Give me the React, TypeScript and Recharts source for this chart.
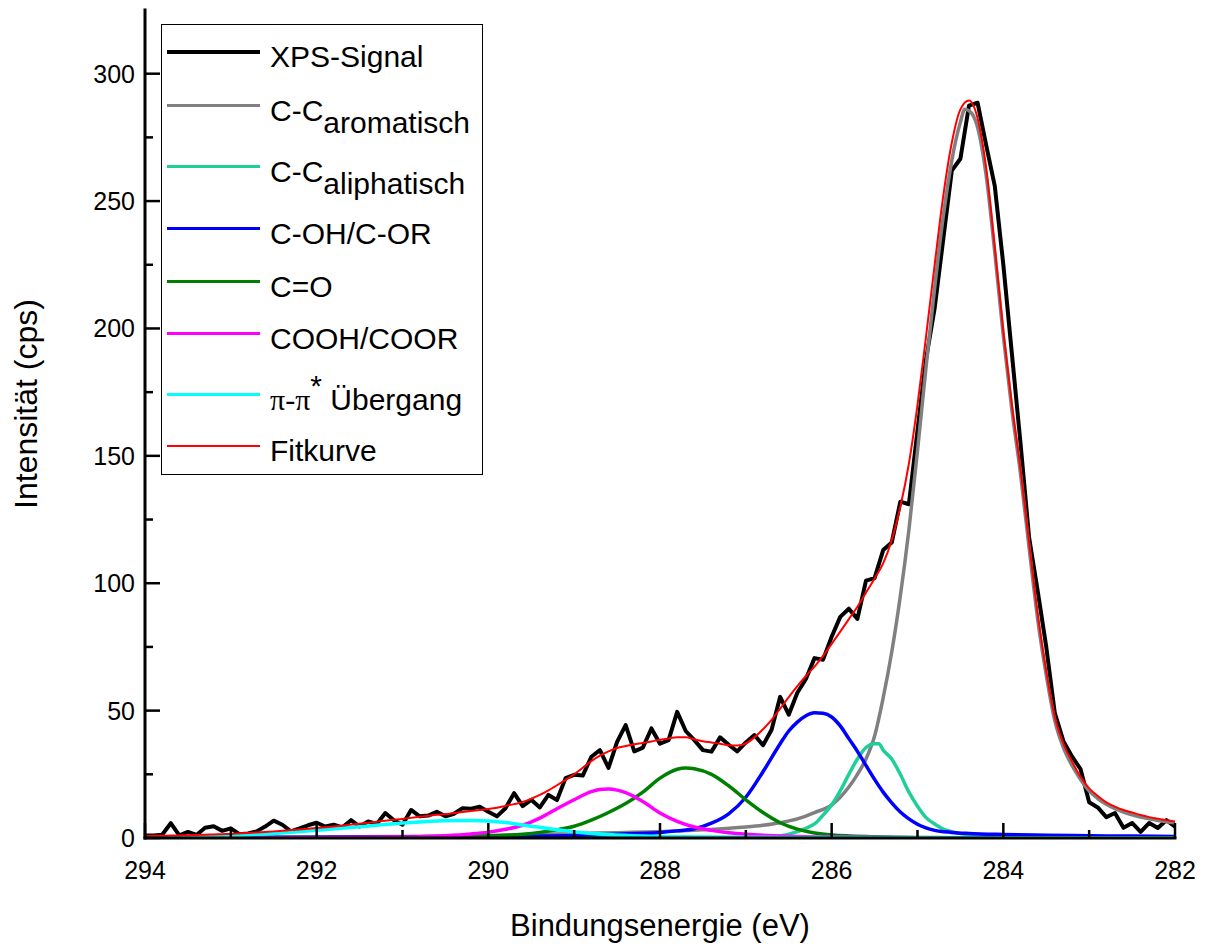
import React from 'react';
import { LineChart, Line, XAxis, YAxis, Legend } from 'recharts';

// C 1s spectrum: measured counts on a 0.1 eV grid from 294.0 eV down to 282.0 eV
const signalStart = 294.0;
const signalStep = 0.1;
const signalCounts = [
  1.0, 1.0, 1.3, 5.8, 1.0, 2.4, 1.2, 4.0, 4.6, 2.8,
  3.8, 1.5, 1.8, 2.6, 4.5, 6.8, 5.2, 2.6, 3.8, 5.0,
  6.0, 4.5, 5.2, 4.2, 7.0, 4.5, 6.5, 5.5, 9.8, 7.0,
  5.2, 11.0, 8.5, 8.8, 10.3, 8.5, 9.5, 11.7, 11.5, 12.3,
  10.3, 8.5, 11.7, 17.6, 12.5, 15.0, 12.0, 16.9, 14.9, 23.5,
  24.8, 24.5, 31.9, 34.5, 27.5, 37.7, 44.3, 34.0, 35.5, 43.0,
  37.0, 38.4, 49.5, 42.0, 38.4, 34.5, 33.9, 39.5, 36.6, 34.0,
  37.5, 40.4, 36.4, 42.5, 55.4, 48.4, 57.0, 62.4, 70.6, 70.0,
  79.0, 86.8, 90.0, 86.0, 101.0, 102.0, 113.0, 116.0, 132.0, 131.0,
  160.0, 188.0, 208.0, 235.0, 262.0, 266.6, 287.5, 288.6, 272.0, 256.0,
  225.0, 190.0, 155.0, 118.0, 97.0, 75.0, 49.0, 38.0, 32.0, 27.0,
  14.0, 12.0, 8.2, 9.8, 4.0, 5.9, 2.4, 5.9, 3.9, 7.0,
  4.5,
];

// Envelope of the fit, same grid as the measured signal
const fitCounts = [
  0.8, 0.85, 0.9, 0.95, 1.0, 1.1, 1.2, 1.3, 1.4, 1.5,
  1.6, 1.8, 2.0, 2.2, 2.4, 2.6, 2.85, 3.1, 3.35, 3.6,
  3.9, 4.2, 4.5, 4.9, 5.25, 5.6, 6.0, 6.4, 6.8, 7.15,
  7.5, 7.9, 8.3, 8.7, 9.1, 9.4, 9.8, 10.2, 10.6, 11.0,
  11.4, 11.9, 12.6, 13.3, 14.1, 15.4, 16.9, 18.7, 20.7, 22.8,
  25.0, 27.6, 30.2, 32.3, 34.0, 35.3, 36.1, 36.8, 37.3, 37.9,
  38.6, 39.1, 39.5, 39.5, 38.7, 38.0, 37.5, 37.0, 36.4, 36.3,
  37.1, 39.5, 42.7, 46.4, 50.8, 55.3, 59.6, 63.6, 67.3, 71.5,
  76.2, 81.0, 85.9, 90.8, 96.3, 101.9, 107.8, 117.0, 130.0, 147.0,
  170.0, 197.0, 225.0, 252.0, 273.0, 286.0, 289.5, 282.5, 263.0, 232.0,
  199.0, 170.0, 145.0, 116.0, 88.0, 65.5, 47.5, 37.0, 30.0, 24.0,
  19.5, 16.5, 14.0, 12.3, 11.0, 10.0, 9.0, 8.2, 7.6, 7.0,
  6.5,
];

// Fitted components (binding energy in eV, intensity in cps)
const aromaticEnergy = [294, 293, 292, 291, 290, 289, 288.5, 288, 287.5, 287, 286.8, 286.6, 286.4, 286.2, 286, 285.9, 285.8, 285.7, 285.6, 285.5, 285.4, 285.3, 285.2, 285.1, 285, 284.9, 284.8, 284.7, 284.6, 284.5, 284.45, 284.4, 284.3, 284.2, 284.1, 284, 283.9, 283.8, 283.7, 283.6, 283.5, 283.4, 283.3, 283.2, 283.1, 283, 282.9, 282.8, 282.7, 282.6, 282.5, 282.4, 282.3, 282.2, 282.1, 282];
const aromaticCounts = [0.2, 0.3, 0.4, 0.6, 1.0, 1.7, 2.1, 2.5, 3.2, 4.3, 5.0, 6.0, 7.5, 10.0, 13.0, 16.0, 20.0, 25.0, 31.0, 40.0, 55.0, 73.0, 95.0, 121.0, 152.0, 185.0, 216.0, 244.0, 266.0, 281.0, 286.0, 285.5, 279.0, 260.0, 230.0, 197.0, 168.0, 143.0, 114.0, 86.0, 64.0, 46.0, 35.5, 28.5, 23.0, 18.5, 15.5, 13.2, 11.5, 10.2, 9.1, 8.2, 7.5, 6.9, 6.4, 5.9];

const aliphaticEnergy = [294, 290, 288, 287, 286.8, 286.6, 286.4, 286.3, 286.2, 286.1, 286, 285.9, 285.8, 285.7, 285.6, 285.5, 285.45, 285.4, 285.3, 285.2, 285.1, 285, 284.9, 284.8, 284.7, 284.6, 284.4, 284.2, 284, 283.5, 283, 282];
const aliphaticCounts = [0, 0.02, 0.05, 0.2, 0.3, 0.8, 2.5, 3.8, 5.5, 9.0, 13.0, 18.5, 25.0, 31.0, 35.5, 37.0, 37.0, 34.5, 31.0, 25.0, 18.0, 12.5, 8.0, 5.5, 3.5, 2.5, 1.2, 0.8, 0.5, 0.3, 0.2, 0.1];

const cohEnergy = [294, 292, 290, 289, 288.5, 288, 287.8, 287.6, 287.4, 287.2, 287, 286.8, 286.6, 286.5, 286.4, 286.3, 286.2, 286.1, 286, 285.9, 285.8, 285.7, 285.6, 285.5, 285.4, 285.3, 285.2, 285.1, 285, 284.8, 284.6, 284.4, 284, 283.5, 283, 282.5, 282];
const cohCounts = [0.15, 0.3, 0.6, 1.0, 1.5, 2.2, 2.8, 3.6, 5.8, 9.5, 16.0, 26.0, 37.0, 42.0, 45.5, 48.0, 49.2, 49.0, 47.5, 44.0, 39.0, 34.0, 28.5, 23.0, 18.0, 13.8, 10.2, 7.5, 5.4, 3.0, 2.2, 1.8, 1.4, 1.1, 0.9, 0.75, 0.6];

const carbonylEnergy = [294, 291, 290.5, 290, 289.6, 289.4, 289.2, 289, 288.8, 288.6, 288.4, 288.2, 288, 287.8, 287.7, 287.6, 287.4, 287.2, 287, 286.8, 286.6, 286.4, 286.2, 286, 285.5, 285, 284, 282];
const carbonylCounts = [0, 0.2, 0.4, 0.8, 1.5, 2.2, 3.2, 4.6, 7.0, 10.0, 13.5, 18.0, 23.5, 27.0, 27.5, 27.2, 25.0, 20.5, 15.0, 10.0, 6.0, 3.5, 2.0, 1.2, 0.5, 0.2, 0.1, 0];

const carboxylEnergy = [294, 292, 291, 290.5, 290.2, 290, 289.8, 289.6, 289.4, 289.2, 289, 288.8, 288.7, 288.6, 288.5, 288.4, 288.2, 288, 287.8, 287.6, 287.4, 287.2, 287, 286.5, 286, 285, 282];
const carboxylCounts = [0, 0.1, 0.35, 0.9, 1.6, 2.3, 3.4, 5.0, 7.8, 11.5, 15.0, 18.2, 19.0, 19.2, 18.8, 17.8, 14.3, 9.8, 6.5, 4.3, 3.0, 2.1, 1.5, 0.7, 0.35, 0.1, 0];

const shakeUpEnergy = [294, 293.5, 293, 292.5, 292, 291.5, 291, 290.5, 290.2, 290, 289.8, 289.6, 289.4, 289.2, 289, 288.6, 288.2, 288, 287, 286, 285, 284, 282];
const shakeUpCounts = [0.1, 0.3, 0.8, 1.8, 3.0, 4.4, 5.9, 6.8, 6.9, 6.7, 6.1, 5.1, 4.2, 3.2, 2.4, 1.4, 0.8, 0.6, 0.3, 0.2, 0.1, 0.08, 0.05];

// Axis ticks
const xMajorTicks = [294, 292, 290, 288, 286, 284, 282];
const xMinorTicks = [293, 291, 289, 287, 285, 283];
const yMajorTicks = [0, 50, 100, 150, 200, 250, 300];
const yMinorTicks = [25, 75, 125, 175, 225, 275];
const xDomain: [number, number] = [282, 294];
const yDomain: [number, number] = [0, 325];

const SANS = '"Liberation Sans", Arial, Helvetica, sans-serif';
const SERIF = '"Liberation Serif", "Times New Roman", serif';

// Frame of the plotting area (chart margins + axis sizes)
const CHART_W = 1205;
const CHART_H = 947;
const MARGIN = { top: 10, right: 30, bottom: 0, left: 0 };
const Y_AXIS_W = 145;
const X_AXIS_H = 109;
const FRAME_LEFT = MARGIN.left + Y_AXIS_W;
const FRAME_RIGHT = CHART_W - MARGIN.right;
const FRAME_TOP = MARGIN.top;
const FRAME_BOTTOM = CHART_H - MARGIN.bottom - X_AXIS_H;

const toPoints = (es: number[], vs: number[]) => es.map((e, i) => ({ e, v: vs[i] }));
const signalEnergy = signalCounts.map((_, i) => Math.round((signalStart - i * signalStep) * 10) / 10);

type Series = {
  key: string;
  name: string;
  color: string;
  width: number;
  curve: 'linear' | 'monotone';
  points: { e: number; v: number }[];
  label: React.ReactNode;
};

const series: Series[] = [
  { key: 'signal', name: 'XPS-Signal', color: '#000000', width: 4, curve: 'linear', points: toPoints(signalEnergy, signalCounts), label: 'XPS-Signal' },
  {
    key: 'aromatic', name: 'C-C aromatisch', color: '#808080', width: 3.5, curve: 'monotone', points: toPoints(aromaticEnergy, aromaticCounts),
    label: (<>C-C<span style={{ position: 'relative', top: 12 }}>aromatisch</span></>),
  },
  {
    key: 'aliphatic', name: 'C-C aliphatisch', color: '#1ecf98', width: 3.5, curve: 'monotone', points: toPoints(aliphaticEnergy, aliphaticCounts),
    label: (<>C-C<span style={{ position: 'relative', top: 12 }}>aliphatisch</span></>),
  },
  { key: 'coh', name: 'C-OH/C-OR', color: '#0000ff', width: 3.5, curve: 'monotone', points: toPoints(cohEnergy, cohCounts), label: 'C-OH/C-OR' },
  { key: 'co', name: 'C=O', color: '#008000', width: 3.5, curve: 'monotone', points: toPoints(carbonylEnergy, carbonylCounts), label: 'C=O' },
  { key: 'cooh', name: 'COOH/COOR', color: '#ff00ff', width: 3.5, curve: 'monotone', points: toPoints(carboxylEnergy, carboxylCounts), label: 'COOH/COOR' },
  {
    key: 'pi', name: 'π-π* Übergang', color: '#00ffff', width: 3.5, curve: 'monotone', points: toPoints(shakeUpEnergy, shakeUpCounts),
    label: (<><span style={{ fontFamily: SERIF }}>π-π</span><span style={{ position: 'relative', top: -14 }}>*</span> Übergang</>),
  },
  { key: 'fit', name: 'Fitkurve', color: '#ff0000', width: 2, curve: 'monotone', points: toPoints(signalEnergy, fitCounts), label: 'Fitkurve' },
];

const MAJOR = 15;
const MINOR = 8;
const TICK_W = 2.5;
const axisLineStyle = { stroke: '#000', strokeWidth: 3, strokeLinecap: 'square' as const };

// Inward-pointing ticks on all four sides; only bottom/left carry numbers
const BottomTick = (props: any) => {
  const { x, payload } = props;
  const major = xMajorTicks.includes(payload.value);
  return (
    <g>
      <line x1={x} x2={x} y1={FRAME_BOTTOM} y2={FRAME_BOTTOM - (major ? MAJOR : MINOR)} stroke="#000" strokeWidth={TICK_W} />
      {major && (
        <text x={x} y={FRAME_BOTTOM + 41} textAnchor="middle" fontFamily={SANS} fontSize={25} fill="#000">{payload.value}</text>
      )}
    </g>
  );
};

const TopTick = (props: any) => {
  const { x, payload } = props;
  const major = xMajorTicks.includes(payload.value);
  return <line x1={x} x2={x} y1={FRAME_TOP} y2={FRAME_TOP + (major ? MAJOR : MINOR)} stroke="#000" strokeWidth={TICK_W} />;
};

const LeftTick = (props: any) => {
  const { y, payload } = props;
  const major = yMajorTicks.includes(payload.value);
  return (
    <g>
      <line x1={FRAME_LEFT} x2={FRAME_LEFT + (major ? MAJOR : MINOR)} y1={y} y2={y} stroke="#000" strokeWidth={TICK_W} />
      {major && (
        <text x={FRAME_LEFT - 10} y={y + 9} textAnchor="end" fontFamily={SANS} fontSize={25} fill="#000">{payload.value}</text>
      )}
    </g>
  );
};

const RightTick = (props: any) => {
  const { y, payload } = props;
  const major = yMajorTicks.includes(payload.value);
  return <line x1={FRAME_RIGHT} x2={FRAME_RIGHT - (major ? MAJOR : MINOR)} y1={y} y2={y} stroke="#000" strokeWidth={TICK_W} />;
};

const legendLineY = [26.5, 80.5, 141.5, 203.5, 256.5, 308.5, 369.5, 420.5];

const LegendBox = () => (
  <div
    style={{
      position: 'relative', width: 322, height: 451, boxSizing: 'border-box',
      border: '1.5px solid #000', background: '#fff', fontFamily: SANS, fontSize: 30, color: '#000',
    }}
  >
    {series.map((s, i) => (
      <React.Fragment key={s.key}>
        <div style={{ position: 'absolute', left: 5, top: legendLineY[i] - s.width / 2, width: 93, height: s.width, background: s.color }} />
        <div style={{ position: 'absolute', left: 108, top: legendLineY[i] - 10, lineHeight: '30px', whiteSpace: 'nowrap' }}>{s.label}</div>
      </React.Fragment>
    ))}
  </div>
);

const YTitle = () => {
  const x = 37;
  const y = 404;
  return (
    <text x={x} y={y} transform={`rotate(-90 ${x} ${y})`} textAnchor="middle" fontFamily={SANS} fontSize={32} fill="#000">
      Intensität (cps)
    </text>
  );
};

export default function App() {
  const xTicks = [...xMajorTicks, ...xMinorTicks].sort((a, b) => b - a);
  const yTicks = [...yMajorTicks, ...yMinorTicks].sort((a, b) => a - b);
  return (
    <div style={{ position: 'absolute', left: 0, top: 0, width: CHART_W, height: CHART_H, background: '#fff' }}>
      <LineChart width={CHART_W} height={CHART_H} margin={MARGIN}>
        <XAxis
          xAxisId="b" type="number" dataKey="e" domain={xDomain} reversed allowDataOverflow
          ticks={xTicks} interval={0} height={X_AXIS_H} tickSize={0} tickMargin={0} tickLine={false}
          axisLine={axisLineStyle} tick={<BottomTick />}
          label={{ value: 'Bindungsenergie (eV)', position: 'insideBottom', offset: 11, fontFamily: SANS, fontSize: 31, fill: '#000' }}
        />
        <XAxis
          xAxisId="t" orientation="top" type="number" dataKey="e" domain={xDomain} reversed allowDataOverflow
          ticks={xTicks} interval={0} height={0} tickSize={0} tickMargin={0} tickLine={false}
          axisLine={axisLineStyle} tick={<TopTick />}
        />
        <YAxis
          yAxisId="l" type="number" domain={yDomain} allowDataOverflow ticks={yTicks} interval={0}
          width={Y_AXIS_W} tickSize={0} tickMargin={0} tickLine={false} axisLine={axisLineStyle}
          tick={<LeftTick />} label={() => <YTitle />}
        />
        <YAxis
          yAxisId="r" orientation="right" type="number" domain={yDomain} allowDataOverflow ticks={yTicks} interval={0}
          width={0} tickSize={0} tickMargin={0} tickLine={false} axisLine={axisLineStyle} tick={<RightTick />}
        />
        {series.map((s) => (
          <Line
            key={s.key}
            xAxisId="b"
            yAxisId="l"
            data={s.points}
            dataKey="v"
            name={s.name}
            type={s.curve}
            stroke={s.color}
            strokeWidth={s.width}
            strokeLinejoin="round"
            dot={false}
            activeDot={false}
            isAnimationActive={false}
          />
        ))}
        <Legend
          layout="vertical"
          align="center"
          verticalAlign="middle"
          wrapperStyle={{ left: 161, top: 24, width: 322, height: 451 }}
          content={() => <LegendBox />}
        />
      </LineChart>
    </div>
  );
}
